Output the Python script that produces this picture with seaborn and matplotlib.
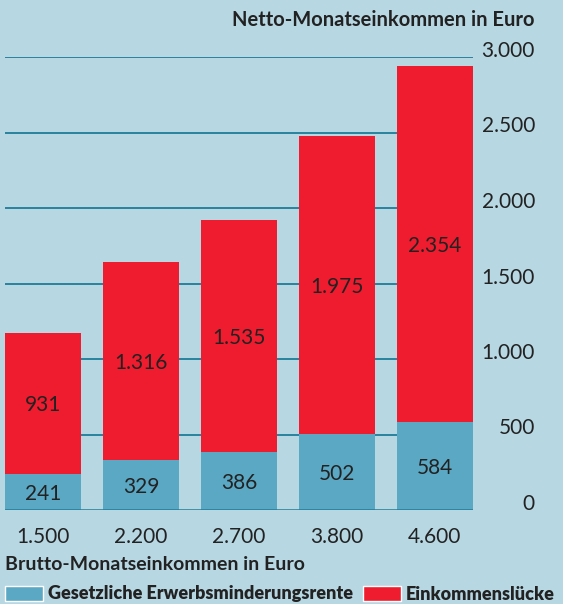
import numpy as np
import pandas as pd
import seaborn as sns
import matplotlib.pyplot as plt
from matplotlib.patches import Patch
from matplotlib.font_manager import FontProperties

brutto = ['1.500', '2.200', '2.700', '3.800', '4.600']
rente = [241, 329, 386, 502, 584]
luecke = [931, 1316, 1535, 1975, 2354]
yticks = [0, 500, 1000, 1500, 2000, 2500, 3000]

bg = '#b7d7e3'
teal = '#5ba8c4'
red = '#ee1c2e'
grid = '#1f7c98'
txt = '#222222'

sns.set_theme(style='white')
plt.rcParams['font.family'] = ['Lato', 'DejaVu Sans']

def de(v):
    return f'{v:,.0f}'.replace(',', '.')

df = pd.DataFrame({'brutto': brutto, 'rente': rente, 'luecke': luecke})
df['total'] = df['rente'] + df['luecke']

fig = plt.figure(figsize=(5.63, 6.04), dpi=100, facecolor=bg)
ax = fig.add_axes([5 / 563, 94 / 604, 468 / 563, 453 / 604])
ax.set_facecolor(bg)

# gridlines behind bars
for t in yticks[1:]:
    ax.axhline(t, color=grid, lw=1.3, zorder=0)

sns.barplot(df, x='brutto', y='total', color=red, width=0.775, saturation=1,
            linewidth=0, edgecolor='none', ax=ax, zorder=2)
sns.barplot(df, x='brutto', y='rente', color=teal, width=0.775, saturation=1,
            linewidth=0, edgecolor='none', ax=ax, zorder=3)
ax.axhline(0, color=grid, lw=1.8, zorder=4)

for i, r in df.iterrows():
    ax.text(i, r['rente'] / 2, de(r['rente']), ha='center', va='center_baseline',
            fontsize=15, color=txt, zorder=5)
    ax.text(i, r['rente'] + r['luecke'] / 2, de(r['luecke']), ha='center', va='center_baseline',
            fontsize=15, color=txt, zorder=5)

ax.set_xlim(-0.39, 4.39)
ax.set_ylim(0, 3000)
ax.set_yticks(yticks)
ax.set_yticklabels([de(t) for t in yticks])
ax.yaxis.tick_right()
ax.tick_params(axis='y', length=0, pad=44.6, labelsize=15, labelcolor=txt)
ax.tick_params(axis='x', length=0, pad=12, labelsize=15, labelcolor=txt)
for lab in ax.get_yticklabels():
    lab.set_horizontalalignment('right')
    lab.set_verticalalignment('baseline')
ax.set_xlabel('')
ax.set_ylabel('')
for s in ax.spines.values():
    s.set_visible(False)

fig.text(535 / 563, 1 - 20 / 604, 'Netto-Monatseinkommen in Euro', ha='right', va='center',
         fontsize=14.5, fontweight='bold', color=txt)
fig.text(5 / 563, 1 - 565 / 604, 'Brutto-Monatseinkommen in Euro', ha='left', va='center',
         fontsize=14, fontweight='bold', color=txt)

leg_font = FontProperties(family=['Lato', 'DejaVu Sans'], weight='heavy', size=13)
handles = [Patch(facecolor=teal, label='Gesetzliche Erwerbsminderungsrente'),
           Patch(facecolor=red, label='Einkommenslücke')]
leg = fig.legend(handles=handles, loc='center left', bbox_to_anchor=(5 / 563, 1 - 594 / 604), ncol=2,
                 frameon=False, handlelength=2.1, handleheight=0.92, handletextpad=0.28,
                 columnspacing=0.55, borderaxespad=0, borderpad=0, prop=leg_font)
for t in leg.get_texts():
    t.set_color(txt)

fig.savefig('out.png', dpi=100, facecolor=bg)
